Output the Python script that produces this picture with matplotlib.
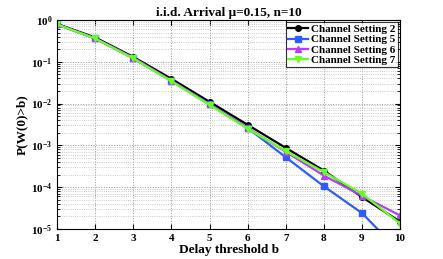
import numpy as np
import matplotlib.pyplot as plt
from matplotlib.ticker import LogLocator

plt.rcParams['font.family'] = ['Liberation Serif', 'DejaVu Serif']
plt.rcParams['font.weight'] = 'bold'
plt.rcParams['mathtext.default'] = 'regular'

b = [1, 2, 3, 4, 5, 6, 7, 8, 9, 10]
cs2 = [0.80, 0.38, 0.13, 0.039, 0.011, 0.0031, 0.00087, 0.00025, 5.8e-5, 1.5e-5]
cs5 = [0.78, 0.36, 0.12, 0.035, 0.0098, 0.0026, 0.00052, 0.000105, 2.4e-5, 2.8e-6]
cs6 = [0.78, 0.36, 0.125, 0.035, 0.0095, 0.0026, 0.00070, 0.00019, 6.2e-5, 2.1e-5]
cs7 = [0.78, 0.36, 0.12, 0.034, 0.0093, 0.0025, 0.00073, 0.00023, 7.0e-5, 1.35e-5]
labels = ['Channel Setting 2', 'Channel Setting 5', 'Channel Setting 6', 'Channel Setting 7']

fig = plt.figure(figsize=(4.43, 2.59), dpi=100)
ax = fig.add_axes([0.129, 0.116, 0.774, 0.807])

ax.semilogy(b, cs2, '-o', color='black', lw=1.6, ms=4, label=labels[0])
ax.semilogy(b, cs5, '-s', color='#2f5cff', lw=1.6, ms=4, label=labels[1])
ax.semilogy(b, cs6, '-^', color='#b43cff', lw=1.6, ms=5, label=labels[2])
ax.semilogy(b, cs7, '-v', color='#66ff22', lw=1.6, ms=5, label=labels[3])

ax.set_xlim(1, 10)
ax.set_ylim(1e-5, 1)
ax.set_xticks(b)
ax.yaxis.set_major_locator(LogLocator(base=10, numticks=10))
ax.yaxis.set_minor_locator(LogLocator(base=10, subs=np.arange(2, 10), numticks=20))
ax.yaxis.set_minor_formatter(plt.NullFormatter())
ax.grid(True, which='major', ls=':', color='#999999', lw=0.7)
ax.grid(True, which='minor', axis='y', ls=':', color='#bbbbbb', lw=0.6)
ax.tick_params(direction='in', which='both', top=True, right=True, labelsize=8)
for s in ax.spines.values():
    s.set_linewidth(0.8)

ax.set_title('i.i.d. Arrival \u03bc=0.15, n=10', fontsize=9.5, fontweight='bold', pad=3)
ax.set_xlabel('Delay threshold b', fontsize=9.5, fontweight='bold', labelpad=1)
ax.set_ylabel('P(W(0)>b)', fontsize=9.5, fontweight='bold', labelpad=2)

leg = ax.legend(loc='upper right', fontsize=8, frameon=True, fancybox=False,
                borderpad=0.2, labelspacing=0.05, handlelength=1.8, handletextpad=0.3,
                borderaxespad=0.2)
leg.get_frame().set_edgecolor('black')
leg.get_frame().set_linewidth(0.8)

fig.savefig('out.png', dpi=100)
